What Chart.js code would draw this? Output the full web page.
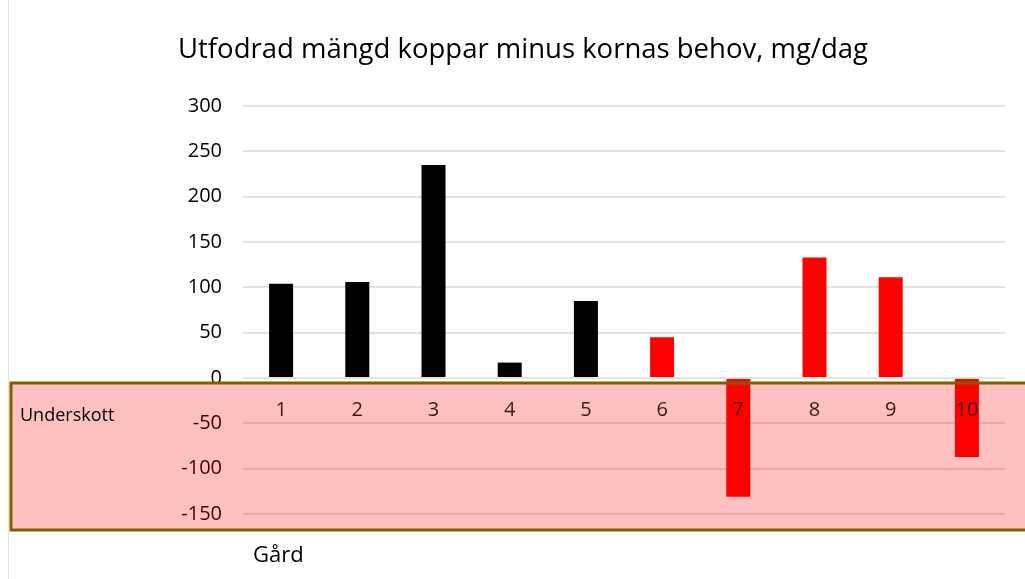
<!DOCTYPE html>
<html>
<head>
<meta charset="utf-8">
<script src="https://cdn.jsdelivr.net/npm/chart.js@4.4.1/dist/chart.umd.min.js"></script>
<style>
  html, body { margin: 0; padding: 0; background: #fff; }
  #wrap { width: 1025px; height: 579px; }
</style>
</head>
<body>
<div id="wrap"><canvas id="chart"></canvas></div>
<script>
// Data
const categories = ['1', '2', '3', '4', '5', '6', '7', '8', '9', '10'];
const values = [104, 106, 235, 17, 85, 45, -131, 133, 111, -87];
const barColors = ['#000000', '#000000', '#000000', '#000000', '#000000',
                   '#ff0000', '#ff0000', '#ff0000', '#ff0000', '#ff0000'];
const yMin = -150, yMax = 300, yStep = 50;
const titleText = 'Utfodrad mängd koppar minus kornas behov, mg/dag';
const axisTitle = 'Gård';
const deficitLabel = 'Underskott';

const FONT = "'Open Sans', sans-serif";

// pink "Underskott" zone below zero, plus title and axis title text
const deficitZone = {
    id: 'deficitZone',
    beforeDraw(chart) {
        const ctx = chart.ctx;
        ctx.save();
        ctx.strokeStyle = '#e2e2e2';
        ctx.lineWidth = 1;
        ctx.beginPath();
        ctx.moveTo(8.5, 0);
        ctx.lineTo(8.5, chart.height);
        ctx.stroke();
        ctx.fillStyle = '#000000';
        ctx.font = '27.5px ' + FONT;
        ctx.textAlign = 'center';
        ctx.textBaseline = 'middle';
        ctx.fillText(titleText, 523, 50);
        ctx.restore();
    },
    beforeDatasetsDraw(chart) {
        const y = chart.scales.y;
        const top = y.getPixelForValue(0) + 5;
        const bottom = y.getPixelForValue(yMin) + 16;
        const ctx = chart.ctx;
        ctx.save();
        ctx.fillStyle = 'rgba(255, 0, 0, 0.247)';
        ctx.fillRect(11, top, chart.width, bottom - top);
        ctx.restore();
    },
    afterDatasetsDraw(chart) {
        const y = chart.scales.y;
        const top = y.getPixelForValue(0) + 5;
        const bottom = y.getPixelForValue(yMin) + 16;
        const ctx = chart.ctx;
        ctx.save();
        ctx.strokeStyle = '#7f6000';
        ctx.lineWidth = 3;
        ctx.strokeRect(11, top, chart.width + 20, bottom - top);
        ctx.fillStyle = '#000000';
        ctx.font = '18px ' + FONT;
        ctx.textBaseline = 'middle';
        ctx.textAlign = 'left';
        ctx.fillText(deficitLabel, 20, top + 33);
        ctx.font = '22px ' + FONT;
        ctx.fillText(axisTitle, 253, 556);
        ctx.restore();
    }
};

const ctx = document.getElementById('chart').getContext('2d');
const chart = new Chart(ctx, {
    type: 'bar',
    data: {
        labels: categories,
        datasets: [{
            data: values,
            backgroundColor: barColors,
            borderWidth: 0,
            barPercentage: 0.315,
            categoryPercentage: 1.0
        }]
    },
    options: {
        responsive: true,
        maintainAspectRatio: false,
        animation: false,
        layout: { padding: { left: 0, right: 20, top: 106, bottom: 65 } },
        plugins: {
            legend: { display: false },
            tooltip: { enabled: false },
            title: { display: false }
        },
        scales: {
            x: {
                position: { y: 0 },
                grid: { display: false, drawTicks: false },
                border: { display: false },
                ticks: {
                    z: 1,
                    color: '#401414',
                    padding: 20,
                    font: { family: FONT, size: 20 }
                }
            },
            y: {
                min: yMin,
                max: yMax,
                afterFit(scale) { scale.width = 243; },
                grid: { color: '#e2e2e2', lineWidth: 2, drawTicks: false },
                border: { display: false },
                ticks: {
                    stepSize: yStep,
                    color: '#000000',
                    padding: 21,
                    font: { family: FONT, size: 20 }
                }
            }
        }
    },
    plugins: [deficitZone]
});
</script>
</body>
</html>
